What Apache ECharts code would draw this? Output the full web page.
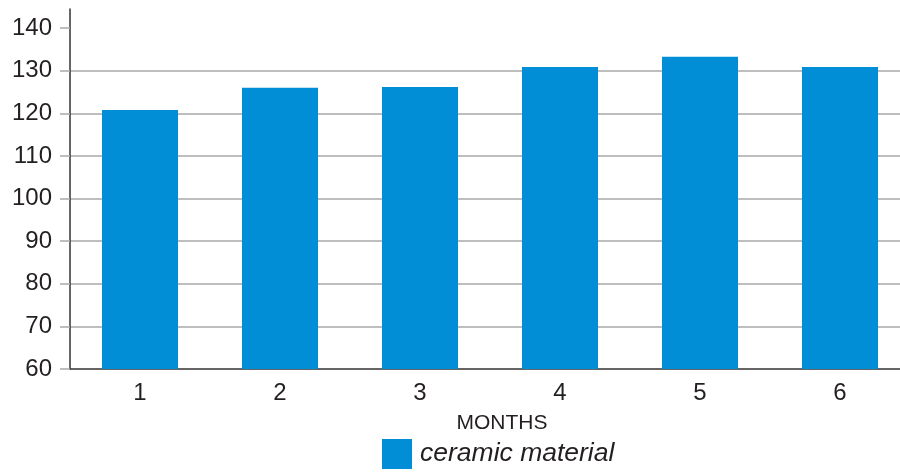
<!DOCTYPE html>
<html lang="en">
<head>
    <meta charset="UTF-8">
    <title>ceramic material</title>
    <script src="https://cdn.jsdelivr.net/npm/echarts@6/dist/echarts.min.js"></script>
</head>
<body style="margin: 0;">

<div id="bar_wrap" style="width: 900px; height: 473px;"></div>

<script>
    var months = ["1", "2", "3", "4", "5", "6"];
    var ceramic = [120.8, 126.0, 126.2, 130.9, 133.3, 130.9];
    var y_ticks = [60, 70, 80, 90, 100, 110, 120, 130, 140];

    var myBar = echarts.init(document.getElementById("bar_wrap"));

    var text_color = "#231f20";
    var grid_color = "#a9a9a9";
    var font = "'Liberation Sans', Arial, sans-serif";

    var option = {
        animation: false,
        textStyle: { fontFamily: font },
        grid: {
            left: 70,
            width: 840,
            top: 9,
            bottom: 104,
            containLabel: false,
            outerBoundsMode: "none"
        },
        legend: {
            data: ["ceramic material"],
            left: 382,
            top: 439,
            padding: 0,
            itemWidth: 30,
            itemHeight: 30,
            itemGap: 0,
            icon: "rect",
            textStyle: {
                color: text_color,
                fontSize: 26.5,
                fontStyle: "italic",
                fontFamily: font,
                padding: [6, 0, 0, 3]
            }
        },
        xAxis: {
            type: "category",
            data: months,
            name: "MONTHS",
            nameLocation: "middle",
            nameGap: 44,
            nameTextStyle: {
                color: text_color,
                fontSize: 21,
                fontFamily: font,
                padding: [0, 0, 0, 24]
            },
            axisLine: { lineStyle: { color: "#333333", width: 1.5 } },
            axisTick: { show: false },
            axisLabel: {
                color: text_color,
                fontSize: 24,
                fontFamily: font,
                margin: 12
            }
        },
        yAxis: {
            type: "value",
            min: 60,
            max: 144.5,
            interval: 10,
            axisLine: { show: true, lineStyle: { color: "#333333", width: 1.5 } },
            axisTick: {
                show: true,
                length: 10,
                customValues: y_ticks,
                lineStyle: { color: grid_color, width: 1.5 }
            },
            axisLabel: {
                color: text_color,
                fontSize: 24,
                fontFamily: font,
                margin: 18,
                customValues: y_ticks
            },
            splitLine: {
                show: true,
                showMaxLine: false,
                showMinLine: false,
                lineStyle: { color: grid_color, width: 1.5 }
            }
        },
        series: [
            {
                name: "ceramic material",
                type: "bar",
                data: ceramic,
                barWidth: 76,
                itemStyle: { color: "#028ed6" }
            }
        ]
    };

    myBar.setOption(option);
</script>
</body>
</html>
